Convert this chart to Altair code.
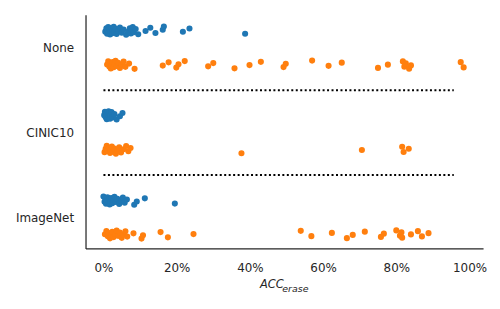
import altair as alt
import pandas as pd

categories = ["None", "CINIC10", "ImageNet"]
hues = ["blue", "orange"]
hue_colors = ["#1f77b4", "#ff7f0e"]

none_blue = [0.005, 0.008, 0.010, 0.012, 0.013, 0.015, 0.017, 0.018, 0.020, 0.022,
             0.024, 0.026, 0.028, 0.030, 0.033, 0.036, 0.040, 0.045, 0.050, 0.055,
             0.062, 0.068, 0.072, 0.075, 0.078, 0.080, 0.083, 0.088, 0.095, 0.115,
             0.128, 0.142, 0.162, 0.165, 0.217, 0.235, 0.387]
none_orange = [0.010, 0.013, 0.016, 0.018, 0.020, 0.022, 0.025, 0.028, 0.030, 0.033,
               0.036, 0.040, 0.045, 0.050, 0.055, 0.060, 0.070, 0.085, 0.162, 0.178,
               0.199, 0.205, 0.222, 0.286, 0.300, 0.358, 0.399, 0.430, 0.492, 0.498,
               0.570, 0.615, 0.651, 0.750, 0.777, 0.818, 0.822, 0.826, 0.835, 0.840,
               0.976, 0.984]
cinic_blue = [0.002, 0.004, 0.006, 0.008, 0.009, 0.010, 0.011, 0.012, 0.013, 0.014,
              0.015, 0.016, 0.018, 0.020, 0.022, 0.025, 0.030, 0.036, 0.045, 0.052]
cinic_orange = [0.003, 0.006, 0.009, 0.012, 0.015, 0.018, 0.020, 0.023, 0.026, 0.030,
                0.034, 0.038, 0.043, 0.048, 0.055, 0.062, 0.068, 0.074, 0.377, 0.706,
                0.816, 0.820, 0.834]
imagenet_blue = [0.000, 0.003, 0.005, 0.007, 0.009, 0.011, 0.013, 0.015, 0.017, 0.019,
                 0.021, 0.024, 0.027, 0.030, 0.034, 0.038, 0.043, 0.048, 0.053, 0.058,
                 0.064, 0.084, 0.091, 0.113, 0.195]
imagenet_orange = [0.004, 0.008, 0.012, 0.015, 0.018, 0.021, 0.024, 0.028, 0.032, 0.036,
                   0.040, 0.045, 0.050, 0.055, 0.060, 0.065, 0.082, 0.104, 0.108, 0.156,
                   0.176, 0.246, 0.539, 0.568, 0.624, 0.665, 0.681, 0.714, 0.758, 0.766,
                   0.800, 0.810, 0.814, 0.816, 0.840, 0.859, 0.870, 0.888]

x_ticks = [0, 0.2, 0.4, 0.6, 0.8, 1.0]
separator_y = [0.5, 1.5]
separator_x = [0.0, 0.957]

groups = {
    ("None", "blue"): none_blue,
    ("None", "orange"): none_orange,
    ("CINIC10", "blue"): cinic_blue,
    ("CINIC10", "orange"): cinic_orange,
    ("ImageNet", "blue"): imagenet_blue,
    ("ImageNet", "orange"): imagenet_orange,
}

rows = []
for ci, cat in enumerate(categories):
    for hi, hue in enumerate(hues):
        for v in groups[(cat, hue)]:
            rows.append({"cat": cat, "ci": ci, "hue": hue, "hi": hi, "value": v})
df = pd.DataFrame(rows)

sep_df = pd.DataFrame({"y": separator_y, "x0": [separator_x[0]] * 2, "x1": [separator_x[1]] * 2})

FONT = "DejaVu Sans"
TXT = "#262626"

x_scale = alt.Scale(domain=[-0.049, 1.037], nice=False, zero=False)
y_scale = alt.Scale(domain=[-0.386, 2.363], reverse=True, nice=False, zero=False)

label_expr = "[" + ",".join("'" + c + "'" for c in categories) + "][datum.value]"

x_axis = alt.Axis(format=".0%", values=x_ticks, title=None, grid=False, ticks=False,
                  domainColor=TXT, domainWidth=1.25, labelFont=FONT, labelFontSize=12,
                  labelColor=TXT, labelPadding=14)
y_axis = alt.Axis(values=[0, 1, 2], labelExpr=label_expr, title=None, grid=False,
                  ticks=False, domainColor=TXT, domainWidth=1.25, labelFont=FONT,
                  labelFontSize=12, labelColor=TXT, labelPadding=12,
                  minExtent=73, maxExtent=73)

points = alt.Chart(df).transform_window(
    rn="row_number()"
).transform_calculate(
    ypos="datum.ci + (datum.hi - 0.5) * 0.4 + ((datum.rn * 0.6180339887) % 1 - 0.5) * 0.1"
).mark_circle(size=38, opacity=1).encode(
    x=alt.X("value:Q", scale=x_scale, axis=x_axis),
    y=alt.Y("ypos:Q", scale=y_scale, axis=y_axis),
    color=alt.Color("hue:N", scale=alt.Scale(domain=hues, range=hue_colors), legend=None),
)

rules = alt.Chart(sep_df).mark_rule(color="black", strokeWidth=2, strokeDash=[2, 2.5]).encode(
    x=alt.X("x0:Q", scale=x_scale, axis=x_axis),
    x2="x1:Q",
    y=alt.Y("y:Q", scale=y_scale, axis=y_axis),
)

title_main = alt.Chart(pd.DataFrame({"t": ["ACC"]})).mark_text(
    font=FONT, fontSize=11.5, fontStyle="italic", color=TXT, align="left", baseline="alphabetic"
).encode(text="t:N", x=alt.value(175.5), y=alt.value(275))

title_sub = alt.Chart(pd.DataFrame({"t": ["erase"]})).mark_text(
    font=FONT, fontSize=9.5, fontStyle="italic", color=TXT, align="left", baseline="alphabetic"
).encode(text="t:N", x=alt.value(198), y=alt.value(278.5))

chart = alt.layer(rules, points, title_main, title_sub).properties(
    width=400, height=235,
    padding={"top": 6, "left": 5, "right": 5, "bottom": 5},
).configure_view(stroke=None)

chart.save("out.html", embed_options={"renderer": "svg", "actions": False})
